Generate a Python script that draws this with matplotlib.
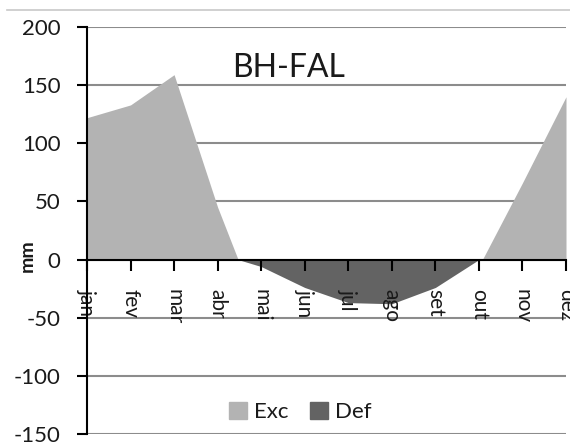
import matplotlib
matplotlib.use('Agg')
import matplotlib.pyplot as plt
from matplotlib.patches import Patch
from matplotlib.lines import Line2D

# Balanço hídrico - BH-FAL
meses = ['jan', 'fev', 'mar', 'abr', 'mai', 'jun',
         'jul', 'ago', 'set', 'out', 'nov', 'dez']

# excedente (positivo) e deficiencia (negativo), com os pontos onde cruzam o zero
exc_x = [0, 1, 2, 3, 3.47, 9.08, 10, 11]
exc_y = [122, 133, 159, 45, 0, 0, 66, 140]
def_x = [3.47, 4, 5, 6, 7, 8, 9]
def_y = [0, -6, -24, -37, -38, -24, 0]

yticks = [-150, -100, -50, 0, 50, 100, 150, 200]

plt.rcParams['font.family'] = ['Lato', 'DejaVu Sans']
cor_txt = '#1a1a1a'

fig = plt.figure(figsize=(5.7, 4.43), dpi=100)
ax = fig.add_axes([87/570, 1 - 434/443, 479/570, 407/443])

# grade atras das areas, rotulos por cima
for v in yticks:
    ax.axhline(v, color='#8c8c8c', linewidth=1.5, zorder=0.5)

ax.fill_between(exc_x, exc_y, 0, color='#b3b3b3', linewidth=0, zorder=1)
ax.fill_between(def_x, def_y, 0, color='#636363', linewidth=0, zorder=1)

ax.set_xlim(0, 11)
ax.set_ylim(-150, 200)
ax.set_yticks(yticks)
ax.set_yticklabels([str(v) for v in yticks], fontsize=16, color=cor_txt)

ax.spines['top'].set_visible(False)
ax.spines['right'].set_visible(False)
ax.spines['bottom'].set_position(('data', 0))
ax.spines['left'].set_linewidth(1.5)
ax.spines['bottom'].set_linewidth(1.5)

ax.set_xticks(range(len(meses)))
ax.set_xticklabels(meses, rotation=-90, fontsize=15, color=cor_txt, va='top', ha='center')
ax.tick_params(axis='x', direction='out', length=8, width=1.5, pad=13)
ax.tick_params(axis='y', direction='out', length=7, width=1.5, pad=12)

ax.text(0.42, 0.9, 'BH-FAL', transform=ax.transAxes, fontsize=23,
        color=cor_txt, ha='center', va='center')

fig.text(27/570, 1 - 256/443, 'mm', rotation=90, fontsize=14,
         fontweight='bold', color=cor_txt, ha='center', va='center')

handles = [Patch(color='#b3b3b3', label='Exc'), Patch(color='#636363', label='Def')]
ax.legend(handles=handles, loc='center', bbox_to_anchor=(0.445, 0.054), ncol=2,
          frameon=False, fontsize=16, handlelength=0.8, handleheight=0.8,
          handletextpad=0.3, columnspacing=1.0, labelcolor=cor_txt)

# linha do quadro no topo
fig.add_artist(Line2D([7/570, 1], [1 - 10/443, 1 - 10/443], color='#c8c8c8',
                      linewidth=1.2, transform=fig.transFigure))

fig.savefig('out.png', dpi=100)
